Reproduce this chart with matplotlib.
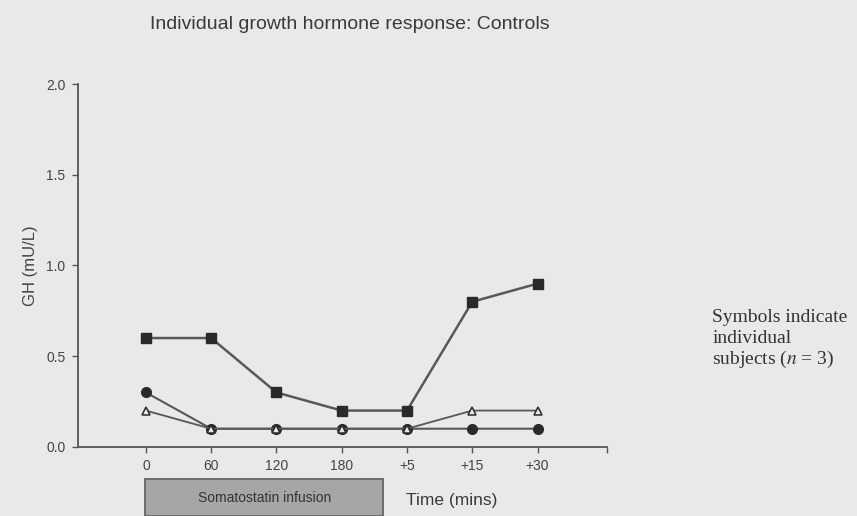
import numpy as np
import matplotlib.pyplot as plt
from matplotlib.patches import Rectangle

# Datos
tiempos = ["0", "60", "120", "180", "+5", "+15", "+30"]
sujeto_cuadrado = [0.6, 0.6, 0.3, 0.2, 0.2, 0.8, 0.9]
sujeto_circulo = [0.3, 0.1, 0.1, 0.1, 0.1, 0.1, 0.1]
sujeto_triangulo = [0.2, 0.1, 0.1, 0.1, 0.1, 0.2, 0.2]

nota = ["Symbols indicate", "individual", "subjects ($n$ = 3)"]

plt.rcParams['font.family'] = ['Liberation Sans', 'DejaVu Sans']
plt.rcParams['mathtext.fontset'] = 'stix'

fondo = "#e9e9e8"
fig = plt.figure(figsize=(8.57, 5.16), dpi=100, facecolor=fondo)
ax = fig.add_axes([0.091, 0.134, 0.617, 0.703], facecolor=fondo)

x = np.arange(len(tiempos))
linea = "#585858"
marca = "#2a2a2a"

ax.plot(x, sujeto_cuadrado, color=linea, lw=1.8, marker="s", ms=6.5,
        mfc=marca, mec=marca, zorder=3)
ax.plot(x, sujeto_circulo, color=linea, lw=1.5, marker="o", ms=7,
        mfc=marca, mec=marca, zorder=4)
ax.plot(x, sujeto_triangulo, color=linea, lw=1.3, marker="^", ms=6,
        mfc=fondo, mec=marca, mew=1.1, zorder=5)

ax.set_xlim(-1.04, 7.06)
ax.set_ylim(0, 2.0)
ax.set_xticks(x)
ax.set_xticklabels(tiempos)
ax.set_xticks([7.06], minor=True)
ax.set_yticks([0.0, 0.5, 1.0, 1.5, 2.0])
ax.set_yticklabels(["0.0", "0.5", "1.0", "1.5", "2.0"])

for lado in ["top", "right"]:
    ax.spines[lado].set_visible(False)
for lado in ["left", "bottom"]:
    ax.spines[lado].set_color("#555555")
    ax.spines[lado].set_linewidth(1.3)

ax.tick_params(axis="both", which="both", colors="#555555",
               labelcolor="#444444", labelsize=10, length=4, width=1)
ax.tick_params(axis="x", pad=5)
ax.tick_params(axis="y", pad=5)

ax.set_ylabel("GH (mU/L)", fontsize=12, color="#444444", labelpad=6)

fig.text(0.408, 0.952, "Individual growth hormone response: Controls",
         ha="center", va="center", fontsize=14, color="#3a3a3a")

# Caja de la infusión de somatostatina
caja = Rectangle((0.169, 0.0), 0.278, 0.071, transform=fig.transFigure,
                 facecolor="#a6a6a6", edgecolor="#666666", lw=1.3)
fig.patches.append(caja)
fig.text(0.309, 0.035, "Somatostatin infusion", ha="center", va="center",
         fontsize=10, color="#333333")
fig.text(0.527, 0.031, "Time (mins)", ha="center", va="center",
         fontsize=12.5, color="#3a3a3a")

# Nota a la derecha, una línea cada vez
for i, texto in enumerate(nota):
    fig.text(0.831, 0.376 - i * 0.041, texto, ha="left", va="baseline",
             fontsize=14, family="Liberation Serif", color="#333333")

fig.savefig("out.png", dpi=100, facecolor=fondo)
